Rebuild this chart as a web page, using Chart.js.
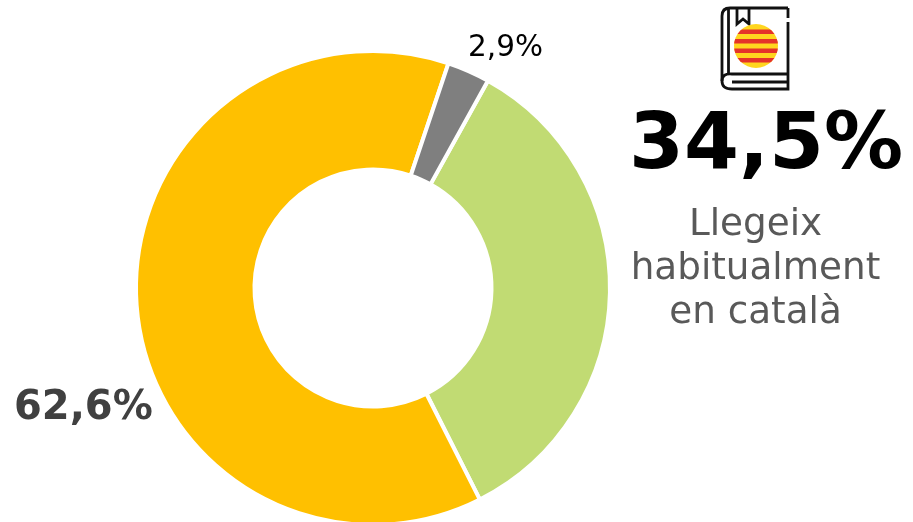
<!DOCTYPE html>
<html>
<head>
<meta charset="utf-8">
<script src="https://cdn.jsdelivr.net/npm/chart.js@4"></script>
<style>
html,body{margin:0;padding:0;background:#fff;width:913px;height:522px;overflow:hidden;font-family:"DejaVu Sans",sans-serif;}
#wrap{position:relative;width:913px;height:522px;overflow:hidden;}
#c{position:absolute;left:0;top:0;}
.t{position:absolute;white-space:nowrap;line-height:1;}
#lblGrey{left:468px;top:32px;font-size:29.500px;color:#000;}
#lblYellow{left:14px;top:385px;font-size:40px;font-weight:bold;color:#404040;}
#big{left:766px;top:102px;transform:translateX(-50%);font-size:79px;font-weight:bold;color:#000;}
#sub{left:755.500px;top:200px;transform:translateX(-50%);font-size:37.300px;line-height:44px;color:#595959;text-align:center;}
#icon{position:absolute;left:718px;top:5px;}
</style>
</head>
<body>
<div id="wrap">
<canvas id="c" width="746" height="576"></canvas>
<div class="t" id="lblGrey"></div>
<div class="t" id="lblYellow"></div>
<div class="t" id="big"></div>
<div class="t" id="sub"></div>
<svg id="icon" width="74" height="88" viewBox="0 0 74 88">
  <defs><clipPath id="disc"><circle cx="38" cy="41" r="22"/></clipPath></defs>
  <g fill="none" stroke="#111" stroke-width="2.800">
    <path d="M70 3H12Q4 3 4 11V76"/>
    <path d="M70 3V13M70 17V84H14Q4 84 4 76T14 69H70"/>
    <path d="M10.500 69V4"/>
    <path d="M70 77H14"/>
    <path d="M19 3V19L25 14L31 19V3"/>
  </g>
  <g clip-path="url(#disc)">
    <rect x="14" y="18" width="48" height="46" fill="#ffd61f"/>
    <rect x="14" y="24.500" width="48" height="4.500" fill="#e5332a"/>
    <rect x="14" y="34" width="48" height="4.500" fill="#e5332a"/>
    <rect x="14" y="43.500" width="48" height="4.500" fill="#e5332a"/>
    <rect x="14" y="53" width="48" height="4.500" fill="#e5332a"/>
  </g>
</svg>
</div>
<script>
const categories = ['Llegeix habitualment en català', 'Altres', 'NS/NC'];
const values = [34.5, 62.6, 2.9];
const colors = ['#c1db73', '#ffc000', '#7f7f7f'];
const subLines = ['Llegeix', 'habitualment', 'en català'];

const fmt = (v) => v.toFixed(1).replace('.', ',') + '%';
document.querySelector('#big').textContent = fmt(values[0]);
document.querySelector('#lblYellow').textContent = fmt(values[1]);
document.querySelector('#lblGrey').textContent = fmt(values[2]);
document.querySelector('#sub').innerHTML = subLines.join('<br>');

new Chart(document.querySelector('#c'), {
  type: 'doughnut',
  data: {
    labels: categories,
    datasets: [{ data: values, backgroundColor: colors, borderColor: '#fff', borderWidth: 4 }]
  },
  options: {
    responsive: false,
    animation: false,
    rotation: 29,
    cutout: '50%',
    layout: { padding: 49 },
    plugins: { legend: { display: false }, tooltip: { enabled: false } }
  }
});
</script>
</body>
</html>
